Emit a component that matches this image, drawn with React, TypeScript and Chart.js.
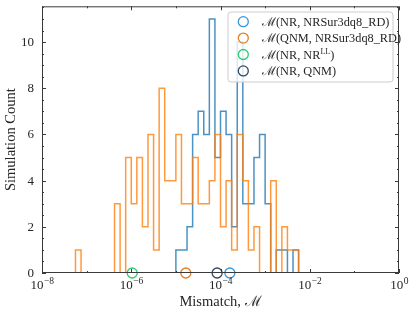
import { useEffect, useRef } from "react";
import { Chart, registerables } from "chart.js";

Chart.register(...registerables);

// ---- data ----
const BIN_WIDTH_EXP = 0.125; // histogram bin width in log10 units
const orangeStartExp = -7.25; // log10 of left edge of first orange bin
const orangeCounts = [1, 0, 0, 0, 0, 0, 0, 3, 0, 5, 3, 5, 2, 6, 1, 8, 4, 4, 6, 3, 3, 5, 3, 3, 4, 6, 2, 4, 1, 6, 4, 1, 2, 0, 0, 4, 0, 2, 1, 1];
const blueStartExp = -5.0; // log10 of left edge of first blue bin
const blueCounts = [1, 1, 2, 6, 7, 6, 11, 5, 7, 6, 2, 10, 3, 3, 5, 6, 3, 0, 1, 1, 0, 1];

const markerValues = [1.62e-4, 1.67e-5, 1.05e-6, 8.4e-5];
const markerColors = ["#3498db", "#e67e22", "#2ecc71", "#34495e"];
const legendLabels: { t: string; sup?: boolean }[][] = [
  [{ t: "ℳ(NR, NRSur3dq8_RD)" }],
  [{ t: "ℳ(QNM, NRSur3dq8_RD)" }],
  [{ t: "ℳ(NR, NR" }, { t: "LL", sup: true }, { t: ")" }],
  [{ t: "ℳ(NR, QNM)" }],
];

const xTickExps = [-8, -6, -4, -2, 0];
const xMinorExps = [-7, -5, -3, -1];
const yTickValues = [0, 2, 4, 6, 8, 10];
const Y_MAX = 11.55;

const FONT = "'Liberation Serif', 'DejaVu Serif', serif";
const TEXT = "#262626";
const FRAME = "#3a3a3a";

function stepPoints(startExp: number, counts: number[]) {
  const pts = [{ x: Math.pow(10, startExp), y: 0 }];
  counts.forEach((c, i) => pts.push({ x: Math.pow(10, startExp + i * BIN_WIDTH_EXP), y: c }));
  pts.push({ x: Math.pow(10, startExp + counts.length * BIN_WIDTH_EXP), y: 0 });
  return pts;
}

const decorPlugin = {
  id: "decor",
  afterDraw(chart: any) {
    const ctx: CanvasRenderingContext2D = chart.ctx;
    const { left, right, top, bottom } = chart.chartArea;
    const xs = chart.scales.x;
    const ys = chart.scales.y;
    ctx.save();
    // frame
    ctx.strokeStyle = FRAME;
    ctx.lineWidth = 1;
    ctx.strokeRect(left + 0.5, top + 0.5, right - left - 1, bottom - top - 1);
    // y ticks
    ctx.beginPath();
    for (let v = 0; v <= Y_MAX + 1e-9; v += 0.5) {
      const py = Math.round(ys.getPixelForValue(v)) + 0.5;
      const len = v % 2 === 0 ? 4 : 2;
      ctx.moveTo(left, py);
      ctx.lineTo(left + len, py);
      ctx.moveTo(right, py);
      ctx.lineTo(right - len, py);
    }
    // x ticks
    const xt = (e: number, len: number) => {
      const px = Math.round(xs.getPixelForValue(Math.pow(10, e))) + 0.5;
      ctx.moveTo(px, bottom);
      ctx.lineTo(px, bottom - len);
      ctx.moveTo(px, top);
      ctx.lineTo(px, top + len);
    };
    xTickExps.forEach((e) => xt(e, 4));
    xMinorExps.forEach((e) => xt(e, 2));
    ctx.stroke();

    // y tick labels
    ctx.fillStyle = TEXT;
    ctx.font = `13px ${FONT}`;
    ctx.textAlign = "right";
    ctx.textBaseline = "middle";
    yTickValues.forEach((v) => {
      ctx.fillText(String(v), 34, ys.getPixelForValue(v) + 0.5);
    });

    // x tick labels 10^e
    ctx.textBaseline = "alphabetic";
    ctx.textAlign = "left";
    xTickExps.forEach((e) => {
      const px = xs.getPixelForValue(Math.pow(10, e));
      const base = "10";
      const sup = e === 0 ? "0" : "−" + String(-e);
      ctx.font = `13px ${FONT}`;
      const wb = ctx.measureText(base).width;
      ctx.font = `9.5px ${FONT}`;
      const ws = ctx.measureText(sup).width;
      const x0 = px - (wb + ws) / 2;
      ctx.font = `13px ${FONT}`;
      ctx.fillText(base, x0, 289);
      ctx.font = `9.5px ${FONT}`;
      ctx.fillText(sup, x0 + wb + 0.5, 283.5);
    });

    // axis titles
    ctx.font = `14.5px ${FONT}`;
    ctx.textAlign = "center";
    ctx.fillText("Mismatch, ℳ", (left + right) / 2, 306);
    ctx.save();
    ctx.translate(15, (top + bottom) / 2);
    ctx.rotate(-Math.PI / 2);
    ctx.fillText("Simulation Count", 0, 0);
    ctx.restore();

    // legend
    const bx = 228, by = 12, bw = 165, bh = 70, r = 3;
    ctx.beginPath();
    ctx.moveTo(bx + r, by);
    ctx.arcTo(bx + bw, by, bx + bw, by + bh, r);
    ctx.arcTo(bx + bw, by + bh, bx, by + bh, r);
    ctx.arcTo(bx, by + bh, bx, by, r);
    ctx.arcTo(bx, by, bx + bw, by, r);
    ctx.closePath();
    ctx.fillStyle = "rgba(255,255,255,0.8)";
    ctx.fill();
    ctx.strokeStyle = "#cccccc";
    ctx.lineWidth = 1;
    ctx.stroke();

    legendLabels.forEach((segs, i) => {
      const cy = 21.7 + i * 16.4;
      ctx.beginPath();
      ctx.arc(243.3, cy, 5, 0, Math.PI * 2);
      ctx.strokeStyle = markerColors[i];
      ctx.lineWidth = 1.3;
      ctx.stroke();
      let tx = 262;
      ctx.fillStyle = TEXT;
      ctx.textAlign = "left";
      ctx.textBaseline = "alphabetic";
      segs.forEach((s) => {
        if (s.sup) {
          ctx.font = `8px ${FONT}`;
          ctx.fillText(s.t, tx, cy - 0.5);
        } else {
          ctx.font = `12.3px ${FONT}`;
          ctx.fillText(s.t, tx, cy + 4);
        }
        tx += ctx.measureText(s.t).width;
      });
    });
    ctx.restore();
  },
};

export default function App() {
  const ref = useRef<HTMLCanvasElement | null>(null);
  useEffect(() => {
    if (!ref.current) return;
    const markerSets = markerValues.map((v, i) => ({
      type: "scatter" as const,
      label: "m" + i,
      data: [{ x: v, y: 0 }],
      pointRadius: 5,
      pointHoverRadius: 5,
      pointBorderWidth: 1.3,
      pointBorderColor: markerColors[i],
      pointBackgroundColor: "rgba(0,0,0,0)",
      showLine: false,
      clip: false as any,
      order: 1,
    }));
    const chart = new Chart(ref.current, {
      type: "line",
      data: {
        datasets: [
          {
            label: "orange",
            data: stepPoints(orangeStartExp, orangeCounts),
            stepped: true,
            borderColor: "rgba(255,127,14,0.8)",
            borderWidth: 1.5,
            borderJoinStyle: "miter",
            pointRadius: 0,
            fill: false,
            order: 2,
          },
          {
            label: "blue",
            data: stepPoints(blueStartExp, blueCounts),
            stepped: true,
            borderColor: "rgba(31,119,180,0.8)",
            borderWidth: 1.5,
            borderJoinStyle: "miter",
            pointRadius: 0,
            fill: false,
            order: 3,
          },
          ...markerSets,
        ] as any,
      },
      options: {
        animation: false,
        responsive: false,
        maintainAspectRatio: false,
        layout: { padding: { left: 0, right: 17, top: 6, bottom: 0 } },
        plugins: { legend: { display: false }, tooltip: { enabled: false } },
        scales: {
          x: {
            type: "logarithmic",
            min: 1e-8,
            max: 1,
            ticks: { display: false },
            grid: { display: false },
            border: { display: false },
            afterFit: (s: any) => {
              s.height = 41;
            },
          },
          y: {
            type: "linear",
            min: 0,
            max: Y_MAX,
            ticks: { display: false },
            grid: { display: false },
            border: { display: false },
            afterFit: (s: any) => {
              s.width = 42;
            },
          },
        },
      } as any,
      plugins: [decorPlugin],
    });
    return () => chart.destroy();
  }, []);
  return (
    <div style={{ position: "fixed", left: 0, top: 0, width: 416, height: 314, background: "#fff" }}>
      <canvas ref={ref} width={416} height={314} style={{ width: 416, height: 314 }} />
    </div>
  );
}
